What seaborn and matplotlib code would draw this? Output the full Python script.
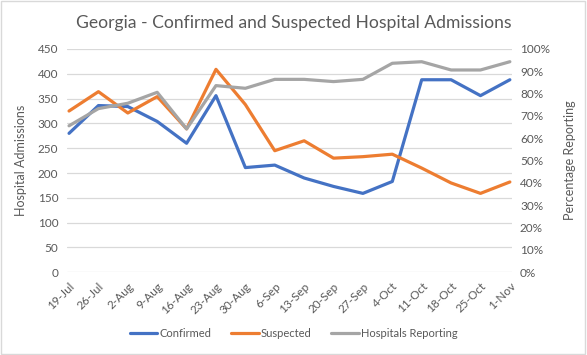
import numpy as np
import pandas as pd
import matplotlib
matplotlib.use("Agg")
import matplotlib.pyplot as plt
import seaborn as sns
from matplotlib.patches import Rectangle
from matplotlib.ticker import PercentFormatter

weeks = ["19-Jul", "26-Jul", "2-Aug", "9-Aug", "16-Aug", "23-Aug", "30-Aug", "6-Sep",
         "13-Sep", "20-Sep", "27-Sep", "4-Oct", "11-Oct", "18-Oct", "25-Oct", "1-Nov"]
confirmed = [280, 336, 334, 304, 260, 356, 211, 216, 190, 173, 159, 183, 388, 388, 356, 388]
suspected = [325, 364, 321, 354, 289, 409, 338, 245, 265, 230, 233, 238, 210, 180, 159, 182]
reporting = [65.6, 73.3, 75.7, 80.6, 64.2, 83.6, 82.4, 86.4, 86.4, 85.4, 86.4, 93.6, 94.3, 90.6, 90.6, 94.3]

sns.set_style("white")
plt.rcParams["font.family"] = ["Lato", "DejaVu Sans"]
txt = "#595959"
grid = "#D9D9D9"

fig = plt.figure(figsize=(5.87, 3.55), dpi=100)
ax = fig.add_axes([0.1136, 0.233, 0.758, 0.629])
ax2 = ax.twinx()

sns.lineplot(x=weeks, y=confirmed, ax=ax, color="#4472C4", linewidth=2.3, label="Confirmed", legend=False)
sns.lineplot(x=weeks, y=suspected, ax=ax, color="#ED7D31", linewidth=2.3, label="Suspected", legend=False)
sns.lineplot(x=weeks, y=reporting, ax=ax2, color="#A5A5A5", linewidth=2.3, label="Hospitals Reporting", legend=False)

ax.set_ylim(0, 450)
ax.set_yticks(np.arange(0, 451, 50))
ax2.set_ylim(0, 100)
ax2.set_yticks(np.arange(0, 101, 10))
ax2.yaxis.set_major_formatter(PercentFormatter(decimals=0))
ax.set_xlim(-0.08, 15.06)

ax.grid(axis="y", color=grid, linewidth=0.9)
ax.set_axisbelow(True)
for a in (ax, ax2):
    for s in a.spines.values():
        s.set_visible(False)
    a.tick_params(length=0, labelsize=8.5, colors=txt, pad=6)

for lab in ax.get_xticklabels():
    lab.set_rotation(45)
    lab.set_ha("right")
    lab.set_rotation_mode("anchor")

ax.set_ylabel("Hospital Admissions", fontsize=9, color=txt, labelpad=8)
ax2.set_ylabel("Percentage Reporting", fontsize=9, color=txt, labelpad=10)
ax.set_xlabel("")

fig.text(0.5, 0.935, "Georgia - Confirmed and Suspected Hospital Admissions",
         ha="center", va="center", fontsize=12.6, color=txt)

h1, l1 = ax.get_legend_handles_labels()
h2, l2 = ax2.get_legend_handles_labels()
fig.legend(h1 + h2, l1 + l2, loc="center", bbox_to_anchor=(0.5, 0.06), ncol=3,
           frameon=False, fontsize=8, labelcolor=txt, handlelength=2.5,
           columnspacing=1.8, handletextpad=0.15)

fig.patches.append(Rectangle((0.002, 0.003), 0.995, 0.994, transform=fig.transFigure,
                             fill=False, edgecolor="#D9D9D9", linewidth=1))

fig.savefig("out.png", dpi=100)
